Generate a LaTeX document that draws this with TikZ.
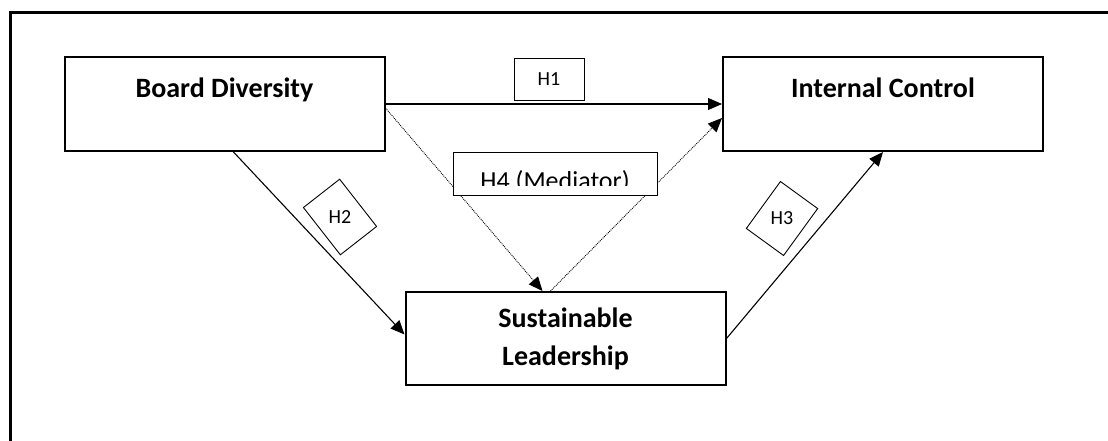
\documentclass[tikz,border=0pt]{standalone}
\usepackage{fontspec}
\setmainfont{Carlito}
\usetikzlibrary{arrows.meta}
\tikzset{
  var/.style={
    draw,
    line width=2pt,
    minimum width=320pt,
    inner sep=0pt,
    align=center,
    font=\fontsize{28}{38}\selectfont\bfseries
  },
  toptext/.style={text height=41pt, text depth=53pt},
  hyp/.style={
    draw,
    fill=white,
    line width=0.9pt,
    inner sep=0pt,
    font=\fontsize{20}{24}\selectfont
  },
  arr/.style={
    line width=1.1pt,
    -{Triangle[length=14pt, width=12pt]}
  },
  dotarr/.style={
    arr,
    line width=0.9pt,
    densely dotted
  }
}
\begin{document}
\begin{tikzpicture}[x=1pt, y=-1pt]
\useasboundingbox (0,0) rectangle (1108,441);
\draw[line width=3pt] (10,441) -- (10,13) -- (1108,13);

\node[var, toptext] (board) at (224.5,104) {Board Diversity};
\node[var, toptext] (intern) at (883,104) {Internal Control};
\node[var, minimum height=93pt] (sustain) at (565.5,338.5) {Sustainable\\Leadership};

\path (board.east) edge[arr] (intern.west)
      ([xshift=9pt]board.south) edge[arr] ([yshift=4pt]sustain.west)
      (sustain.east) edge[arr] (intern.south);
\path ([yshift=-4pt]board.east) edge[dotarr] ([xshift=-23pt]sustain.north)
      ([xshift=-15pt]sustain.north) edge[dotarr] ([yshift=-14pt]intern.west);

\node[hyp, minimum width=70pt, minimum height=42pt] (h1) at (549,79) {H1};
\node[hyp, rotate=-52, minimum width=60pt, minimum height=46pt] (h2) at (340,217) {\rotatebox{52}{H2}};
\node[hyp, rotate=54, minimum width=58pt, minimum height=46pt] (h3) at (782,218.5) {\rotatebox{-54}{H3}};
\node[hyp, minimum width=204pt, minimum height=43pt] (h4) at (555,173.5) {};
\begin{scope}
  \clip (h4.north west) rectangle ([yshift=10pt]h4.south east);
  \node[anchor=base, inner sep=0pt, font=\fontsize{26}{30}\selectfont] (h4text) at (555,189) {H4 (Mediator)};
\end{scope}
\end{tikzpicture}
\end{document}
